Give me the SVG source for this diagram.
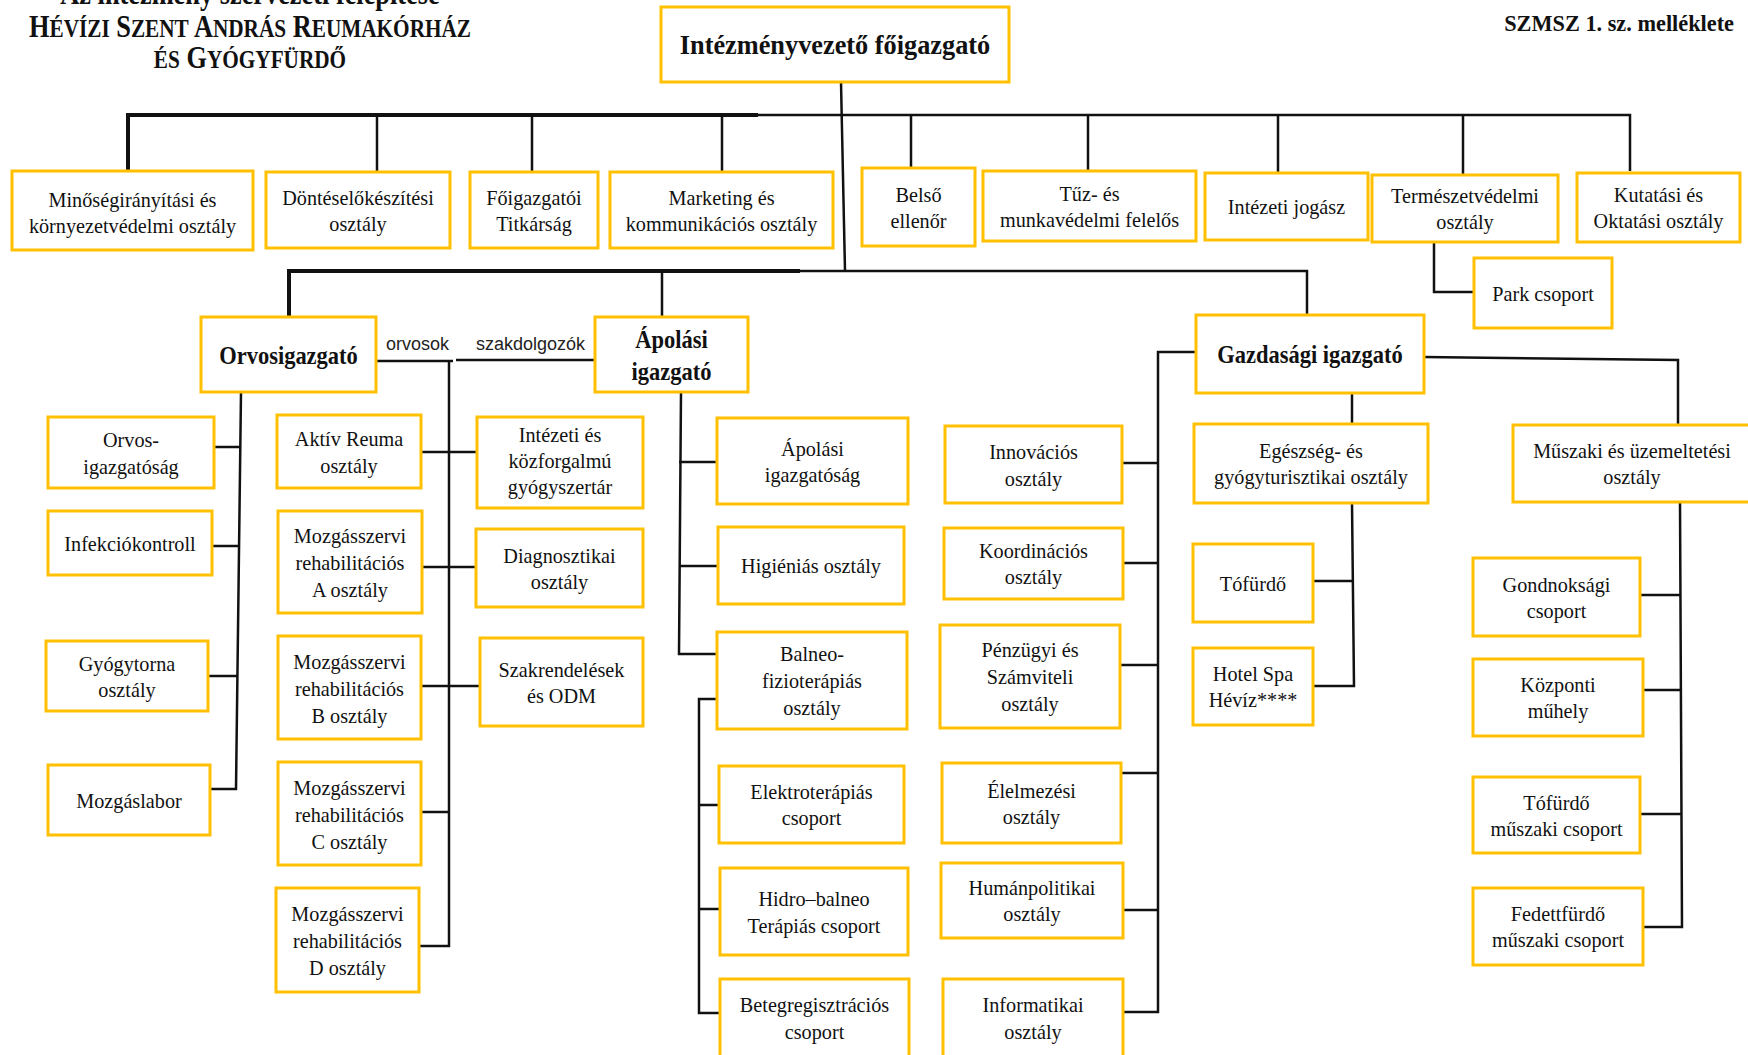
<svg xmlns="http://www.w3.org/2000/svg" width="1748" height="1055" viewBox="0 0 1748 1055">
<style>
.box{fill:#fff;stroke:#FFC000;stroke-width:3}
.t{font-family:"Liberation Serif","Times New Roman",serif;font-size:22px;fill:#111;text-anchor:middle}
.b{font-weight:bold;font-size:25px}
.m{font-weight:bold;font-size:28px}
.ttl{font-family:"Liberation Serif","Times New Roman",serif;font-weight:bold;font-size:31px;fill:#111;text-anchor:middle}
.sc{font-size:25px}
.lbl{font-family:"Liberation Sans",Arial,sans-serif;font-size:18px;fill:#222}
.c{fill:none;stroke:#111;stroke-width:2.5}
.ck{fill:none;stroke:#111;stroke-width:4}
</style>
<rect width="1748" height="1055" fill="#fff"/>
<g id="title">
<text class="ttl" transform="translate(250 0) scale(.85 1)" x="0" y="4">Az intézmény szervezeti felépítése</text>
<text class="ttl" transform="translate(250 0) scale(.85 1)" x="0" y="37">H<tspan class="sc">ÉVÍZI</tspan> S<tspan class="sc">ZENT</tspan> A<tspan class="sc">NDRÁS</tspan> R<tspan class="sc">EUMAKÓRHÁZ</tspan></text>
<text class="ttl" transform="translate(250 0) scale(.85 1)" x="0" y="68"><tspan class="sc">ÉS</tspan> G<tspan class="sc">YÓGYFÜRDŐ</tspan></text>
<text class="ttl" transform="translate(1734 0) scale(.93 1)" x="0" y="31" style="font-size:24px;text-anchor:end">SZMSZ 1. sz. melléklete</text>
</g>
<g id="connectors">
<path class="ck" d="M128,171 V115 H758"/>
<path class="c" d="M758,115 H1630 V171"/>
<path class="c" d="M377,115 V172 M532,115 V172 M722,115 V172 M911,115 V168 M1088,115 V171 M1278,115 V173 M1463,115 V175"/>
<path class="c" d="M841,82 L845,271"/>
<path class="c" d="M1434,242 V292 H1474"/>
<path class="ck" d="M289,317 V271 H800"/>
<path class="c" d="M800,271 H1307 V315 M662,271 V317"/>
<path class="c" d="M241,392 L236,789 H210 M214,447 H241 M212,546 H240 M208,676 H238"/>
<path class="c" d="M376,361 H453 M456,360 H595"/>
<path class="c" d="M449,362 V946 H419 M421,452 H477 M422,567 H476 M421,686 H480 M421,812 H449"/>
<path class="c" d="M681,392 L679,654 H717 M679,462 H717 M679,566 H718"/>
<path class="c" d="M717,699 H699 V1013 H720 M699,805 H719 M699,909 H720"/>
<path class="c" d="M1196,352 H1158 V1012 H1123 M1122,463 H1158 M1123,563 H1158 M1120,665 H1158 M1121,773 H1158 M1123,910 H1158"/>
<path class="c" d="M1352,393 V424 M1352,503 L1354,686 H1313 M1313,581 H1353"/>
<path class="c" d="M1424,357 L1678,360 V425 M1680,502 L1682,927 H1643 M1640,595 H1681 M1643,690 H1681 M1640,814 H1681"/>
</g>
<g id="n-fo">
<rect class="box" x="661" y="7" width="348" height="75"/>
<text class="t m" transform="translate(835 0) scale(.94 1)" x="0" y="54">Intézményvezető főigazgató</text>
</g>
<g id="n-minoseg">
<rect class="box" x="12" y="171" width="241" height="79"/>
<text class="t" transform="translate(132.5 0) scale(.92 1)"><tspan x="0" y="207">Minőségirányítási és</tspan><tspan x="0" y="233">környezetvédelmi osztály</tspan></text>
</g>
<g id="n-dontes">
<rect class="box" x="266" y="172" width="184" height="76"/>
<text class="t" transform="translate(358 0) scale(.92 1)"><tspan x="0" y="205">Döntéselőkészítési</tspan><tspan x="0" y="231">osztály</tspan></text>
</g>
<g id="n-titkarsag">
<rect class="box" x="470" y="172" width="128" height="76"/>
<text class="t" transform="translate(534 0) scale(.92 1)"><tspan x="0" y="205">Főigazgatói</tspan><tspan x="0" y="231">Titkárság</tspan></text>
</g>
<g id="n-marketing">
<rect class="box" x="610" y="172" width="223" height="76"/>
<text class="t" transform="translate(721.5 0) scale(.92 1)"><tspan x="0" y="205">Marketing és</tspan><tspan x="0" y="231">kommunikációs osztály</tspan></text>
</g>
<g id="n-belso">
<rect class="box" x="862" y="168" width="113" height="78"/>
<text class="t" transform="translate(918.5 0) scale(.92 1)"><tspan x="0" y="202">Belső</tspan><tspan x="0" y="228">ellenőr</tspan></text>
</g>
<g id="n-tuz">
<rect class="box" x="983" y="171" width="213" height="70"/>
<text class="t" transform="translate(1089.5 0) scale(.92 1)"><tspan x="0" y="201">Tűz- és</tspan><tspan x="0" y="227">munkavédelmi felelős</tspan></text>
</g>
<g id="n-jogasz">
<rect class="box" x="1205" y="173" width="163" height="67"/>
<text class="t" transform="translate(1286.5 0) scale(.92 1)"><tspan x="0" y="214">Intézeti jogász</tspan></text>
</g>
<g id="n-termeszet">
<rect class="box" x="1372" y="175" width="186" height="67"/>
<text class="t" transform="translate(1465 0) scale(.92 1)"><tspan x="0" y="203">Természetvédelmi</tspan><tspan x="0" y="229">osztály</tspan></text>
</g>
<g id="n-kutatasi">
<rect class="box" x="1577" y="173" width="163" height="69"/>
<text class="t" transform="translate(1658.5 0) scale(.92 1)"><tspan x="0" y="202">Kutatási és</tspan><tspan x="0" y="228">Oktatási osztály</tspan></text>
</g>
<g id="n-park">
<rect class="box" x="1474" y="258" width="138" height="70"/>
<text class="t" transform="translate(1543 0) scale(.92 1)"><tspan x="0" y="301">Park csoport</tspan></text>
</g>
<g id="n-orvosigazgato">
<rect class="box" x="201" y="317" width="175" height="75"/>
<text class="t b" transform="translate(288.5 0) scale(.9 1)" x="0" y="364">Orvosigazgató</text>
</g>
<g id="l-orvosok"><text class="lbl" x="386" y="350">orvosok</text></g>
<g id="l-szakdolgozok"><text class="lbl" x="476" y="350">szakdolgozók</text></g>
<g id="n-apolasi-ig">
<rect class="box" x="595" y="317" width="153" height="75"/>
<text class="t b" transform="translate(671.5 0) scale(.9 1)"><tspan x="0" y="348">Ápolási</tspan><tspan x="0" y="380">igazgató</tspan></text>
</g>
<g id="n-gazdasagi">
<rect class="box" x="1196" y="315" width="228" height="78"/>
<text class="t b" transform="translate(1310 0) scale(.9 1)" x="0" y="363">Gazdasági igazgató</text>
</g>
<g id="n-orvos-ig">
<rect class="box" x="48" y="417" width="166" height="71"/>
<text class="t" transform="translate(131 0) scale(.92 1)"><tspan x="0" y="447">Orvos-</tspan><tspan x="0" y="474">igazgatóság</tspan></text>
</g>
<g id="n-infekcio">
<rect class="box" x="48" y="511" width="164" height="64"/>
<text class="t" transform="translate(130 0) scale(.92 1)"><tspan x="0" y="551">Infekciókontroll</tspan></text>
</g>
<g id="n-gyogytorna">
<rect class="box" x="46" y="641" width="162" height="70"/>
<text class="t" transform="translate(127 0) scale(.92 1)"><tspan x="0" y="671">Gyógytorna</tspan><tspan x="0" y="697">osztály</tspan></text>
</g>
<g id="n-mozgaslabor">
<rect class="box" x="48" y="765" width="162" height="70"/>
<text class="t" transform="translate(129 0) scale(.92 1)"><tspan x="0" y="808">Mozgáslabor</tspan></text>
</g>
<g id="n-aktiv">
<rect class="box" x="277" y="415" width="144" height="73"/>
<text class="t" transform="translate(349 0) scale(.92 1)"><tspan x="0" y="446">Aktív Reuma</tspan><tspan x="0" y="473">osztály</tspan></text>
</g>
<g id="n-mozg-a">
<rect class="box" x="278" y="511" width="144" height="102"/>
<text class="t" transform="translate(350 0) scale(.92 1)"><tspan x="0" y="543">Mozgásszervi</tspan><tspan x="0" y="570">rehabilitációs</tspan><tspan x="0" y="597">A osztály</tspan></text>
</g>
<g id="n-mozg-b">
<rect class="box" x="278" y="636" width="143" height="103"/>
<text class="t" transform="translate(349.5 0) scale(.92 1)"><tspan x="0" y="669">Mozgásszervi</tspan><tspan x="0" y="696">rehabilitációs</tspan><tspan x="0" y="723">B osztály</tspan></text>
</g>
<g id="n-mozg-c">
<rect class="box" x="278" y="762" width="143" height="103"/>
<text class="t" transform="translate(349.5 0) scale(.92 1)"><tspan x="0" y="795">Mozgásszervi</tspan><tspan x="0" y="822">rehabilitációs</tspan><tspan x="0" y="849">C osztály</tspan></text>
</g>
<g id="n-mozg-d">
<rect class="box" x="276" y="888" width="143" height="104"/>
<text class="t" transform="translate(347.5 0) scale(.92 1)"><tspan x="0" y="921">Mozgásszervi</tspan><tspan x="0" y="948">rehabilitációs</tspan><tspan x="0" y="975">D osztály</tspan></text>
</g>
<g id="n-gyogyszertar">
<rect class="box" x="477" y="417" width="166" height="91"/>
<text class="t" transform="translate(560 0) scale(.92 1)"><tspan x="0" y="442">Intézeti és</tspan><tspan x="0" y="468">közforgalmú</tspan><tspan x="0" y="494">gyógyszertár</tspan></text>
</g>
<g id="n-diagnosztikai">
<rect class="box" x="476" y="529" width="167" height="78"/>
<text class="t" transform="translate(559.5 0) scale(.92 1)"><tspan x="0" y="563">Diagnosztikai</tspan><tspan x="0" y="589">osztály</tspan></text>
</g>
<g id="n-szakrendelesek">
<rect class="box" x="480" y="638" width="163" height="88"/>
<text class="t" transform="translate(561.5 0) scale(.92 1)"><tspan x="0" y="677">Szakrendelések</tspan><tspan x="0" y="703">és ODM</tspan></text>
</g>
<g id="n-apolasi-igsag">
<rect class="box" x="717" y="418" width="191" height="86"/>
<text class="t" transform="translate(812.5 0) scale(.92 1)"><tspan x="0" y="456">Ápolási</tspan><tspan x="0" y="482">igazgatóság</tspan></text>
</g>
<g id="n-higienias">
<rect class="box" x="718" y="527" width="186" height="77"/>
<text class="t" transform="translate(811 0) scale(.92 1)"><tspan x="0" y="573">Higiéniás osztály</tspan></text>
</g>
<g id="n-balneo">
<rect class="box" x="717" y="632" width="190" height="97"/>
<text class="t" transform="translate(812 0) scale(.92 1)"><tspan x="0" y="661">Balneo-</tspan><tspan x="0" y="688">fizioterápiás</tspan><tspan x="0" y="715">osztály</tspan></text>
</g>
<g id="n-elektro">
<rect class="box" x="719" y="766" width="185" height="77"/>
<text class="t" transform="translate(811.5 0) scale(.92 1)"><tspan x="0" y="799">Elektroterápiás</tspan><tspan x="0" y="825">csoport</tspan></text>
</g>
<g id="n-hidro">
<rect class="box" x="720" y="868" width="188" height="87"/>
<text class="t" transform="translate(814 0) scale(.92 1)"><tspan x="0" y="906">Hidro–balneo</tspan><tspan x="0" y="933">Terápiás csoport</tspan></text>
</g>
<g id="n-betegreg">
<rect class="box" x="720" y="979" width="189" height="90"/>
<text class="t" transform="translate(814.5 0) scale(.92 1)"><tspan x="0" y="1012">Betegregisztrációs</tspan><tspan x="0" y="1039">csoport</tspan></text>
</g>
<g id="n-innovacios">
<rect class="box" x="945" y="426" width="177" height="77"/>
<text class="t" transform="translate(1033.5 0) scale(.92 1)"><tspan x="0" y="459">Innovációs</tspan><tspan x="0" y="486">osztály</tspan></text>
</g>
<g id="n-koordinacios">
<rect class="box" x="944" y="528" width="179" height="71"/>
<text class="t" transform="translate(1033.5 0) scale(.92 1)"><tspan x="0" y="558">Koordinációs</tspan><tspan x="0" y="584">osztály</tspan></text>
</g>
<g id="n-penzugyi">
<rect class="box" x="940" y="625" width="180" height="103"/>
<text class="t" transform="translate(1030 0) scale(.92 1)"><tspan x="0" y="657">Pénzügyi és</tspan><tspan x="0" y="684">Számviteli</tspan><tspan x="0" y="711">osztály</tspan></text>
</g>
<g id="n-elelmezesi">
<rect class="box" x="942" y="763" width="179" height="80"/>
<text class="t" transform="translate(1031.5 0) scale(.92 1)"><tspan x="0" y="798">Élelmezési</tspan><tspan x="0" y="824">osztály</tspan></text>
</g>
<g id="n-human">
<rect class="box" x="941" y="863" width="182" height="75"/>
<text class="t" transform="translate(1032 0) scale(.92 1)"><tspan x="0" y="895">Humánpolitikai</tspan><tspan x="0" y="921">osztály</tspan></text>
</g>
<g id="n-informatikai">
<rect class="box" x="943" y="979" width="180" height="90"/>
<text class="t" transform="translate(1033 0) scale(.92 1)"><tspan x="0" y="1012">Informatikai</tspan><tspan x="0" y="1039">osztály</tspan></text>
</g>
<g id="n-egeszseg">
<rect class="box" x="1194" y="424" width="234" height="79"/>
<text class="t" transform="translate(1311 0) scale(.92 1)"><tspan x="0" y="458">Egészség- és</tspan><tspan x="0" y="484">gyógyturisztikai osztály</tspan></text>
</g>
<g id="n-tofurdo">
<rect class="box" x="1193" y="544" width="120" height="78"/>
<text class="t" transform="translate(1253 0) scale(.92 1)"><tspan x="0" y="591">Tófürdő</tspan></text>
</g>
<g id="n-hotel">
<rect class="box" x="1193" y="648" width="120" height="77"/>
<text class="t" transform="translate(1253 0) scale(.92 1)"><tspan x="0" y="681">Hotel Spa</tspan><tspan x="0" y="707">Hévíz****</tspan></text>
</g>
<g id="n-muszaki">
<rect class="box" x="1513" y="425" width="250" height="77"/>
<text class="t" transform="translate(1632 0) scale(.92 1)"><tspan x="0" y="458">Műszaki és üzemeltetési</tspan><tspan x="0" y="484">osztály</tspan></text>
</g>
<g id="n-gondnoksagi">
<rect class="box" x="1473" y="558" width="167" height="78"/>
<text class="t" transform="translate(1556.5 0) scale(.92 1)"><tspan x="0" y="592">Gondnoksági</tspan><tspan x="0" y="618">csoport</tspan></text>
</g>
<g id="n-kozponti">
<rect class="box" x="1473" y="659" width="170" height="77"/>
<text class="t" transform="translate(1558 0) scale(.92 1)"><tspan x="0" y="692">Központi</tspan><tspan x="0" y="718">műhely</tspan></text>
</g>
<g id="n-tofurdo-musz">
<rect class="box" x="1473" y="777" width="167" height="76"/>
<text class="t" transform="translate(1556.5 0) scale(.92 1)"><tspan x="0" y="810">Tófürdő</tspan><tspan x="0" y="836">műszaki csoport</tspan></text>
</g>
<g id="n-fedett">
<rect class="box" x="1473" y="888" width="170" height="77"/>
<text class="t" transform="translate(1558 0) scale(.92 1)"><tspan x="0" y="921">Fedettfürdő</tspan><tspan x="0" y="947">műszaki csoport</tspan></text>
</g>
</svg>
